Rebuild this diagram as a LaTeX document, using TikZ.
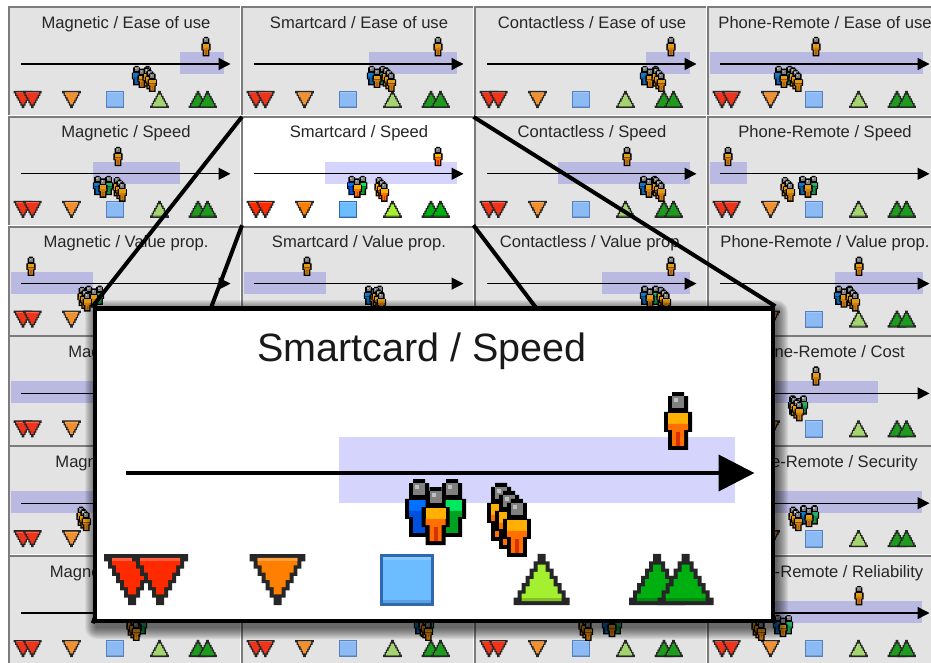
\documentclass[tikz,border=0pt]{standalone}
\usepackage{fontspec}
\setmainfont{Liberation Sans}
\usetikzlibrary{arrows.meta}

% colours of the dimmed cells
\newcommand{\usedim}{%
  \definecolor{cellfill}{HTML}{E3E3E3}\definecolor{bandfill}{HTML}{B9B9E2}%
  \definecolor{redfill}{HTML}{F0341C}\definecolor{orangefill}{HTML}{F09030}%
  \definecolor{squarefill}{HTML}{8CBAF5}\definecolor{squareedge}{HTML}{5580BC}%
  \definecolor{limefill}{HTML}{A4D470}\definecolor{greenfill}{HTML}{1E9A1E}%
  \definecolor{amberhi}{HTML}{E39C12}\definecolor{amberlo}{HTML}{CC7C10}\definecolor{ambercore}{HTML}{A86410}%
  \definecolor{bluehi}{HTML}{1478C8}\definecolor{bluelo}{HTML}{1060A8}%
  \definecolor{mintlhi}{HTML}{28AC6C}\definecolor{mintllo}{HTML}{188C48}}
% colours of the selected cell
\newcommand{\usevivid}{%
  \definecolor{cellfill}{HTML}{FFFFFF}\definecolor{bandfill}{HTML}{D4D4FD}%
  \definecolor{redfill}{HTML}{FF2A00}\definecolor{orangefill}{HTML}{FF8000}%
  \definecolor{squarefill}{HTML}{6BBDFF}\definecolor{squareedge}{HTML}{2F68B0}%
  \definecolor{limefill}{HTML}{A4F030}\definecolor{greenfill}{HTML}{00B010}%
  \definecolor{amberhi}{HTML}{FFB000}\definecolor{amberlo}{HTML}{FF7000}\definecolor{ambercore}{HTML}{D83000}%
  \definecolor{bluehi}{HTML}{0070FF}\definecolor{bluelo}{HTML}{0050E0}%
  \definecolor{mintlhi}{HTML}{00E860}\definecolor{mintllo}{HTML}{00A020}}
\usedim
\definecolor{rimgray}{HTML}{7C7C7C}

\newcommand{\iconw}{1.33pt}

% stepped triangle: colour, steps, top
\newcommand{\zigtri}[3]{
  \fill[#1] (-#2*1.333,#3)
    \foreach \k in {1,...,#2} {-- ({-#2*1.333+1.333*(\k-1)},{#3+2.43*\k}) -- ({-#2*1.333+1.333*\k},{#3+2.43*\k})}
    \foreach \k in {#2,...,1} {-- ({#2*1.333-1.333*\k},{#3+2.43*\k}) -- ({#2*1.333-1.333*(\k-1)},{#3+2.43*\k})}
    -- (#2*1.333,#3) -- cycle;
}

\tikzset{
  cellbox/.style={rectangle,fill=cellfill,minimum width=231pt,minimum height=108pt,inner sep=0pt,anchor=north west},
  celltitle/.style={font=\fontsize{16.6}{18}\selectfont,text=black!85,inner sep=0pt,anchor=base},
  cellrim/.style={rimgray,line width=2pt},
  axisline/.style={line width=\iconw,-{Triangle[length=0pt 9,width=0pt 9]}},
  iconedge/.style={line width=0.75*\iconw,line join=miter},
  zoomline/.style={black,line width=4pt},
  zoombox/.style={rectangle,draw=black,fill=white,line width=4.5pt,minimum width=678pt,minimum height=312.5pt,inner sep=0pt},
  pics/person/.style n args={3}{code={
    \begin{scope}[x=1.333pt,y=-1.333pt]
    \fill[black] (-1.5,0) -- (1.5,0) -- (1.5,1) -- (2.5,1) -- (2.5,5) -- (3.5,5) -- (3.5,10) -- (2.5,10) -- (2.5,14.5)
      -- (-2.5,14.5) -- (-2.5,10) -- (-3.5,10) -- (-3.5,5) -- (-2.5,5) -- (-2.5,1) -- (-1.5,1) -- cycle;
    \fill[black!50] (-1.5,1) rectangle (1.5,4);
    \fill[black!25] (-1,1.5) rectangle (0,2.5);
    \fill[#1] (-2.5,5.2) rectangle (2.5,8);
    \fill[#2] (-2.5,8) -- (2.5,8) -- (2.5,9.5) -- (1.5,9.5) -- (1.5,13.5) -- (-1.5,13.5) -- (-1.5,9.5) -- (-2.5,9.5) -- cycle;
    \fill[#3] (-0.5,10) rectangle (0.5,13.5);
    \end{scope}
  }},
  pics/team/.style={code={
    \pic[transform shape] at (-5.5,0) {person={bluehi}{bluelo}{bluelo}};
    \pic[transform shape] at (5.5,0) {person={mintlhi}{mintllo}{mintllo}};
    \pic[transform shape] at (0,2.67) {person={amberhi}{amberlo}{ambercore}};
  }},
  pics/pile/.style={code={
    \pic[transform shape] at (0,0) {person={amberhi}{amberlo}{ambercore}};
    \pic[transform shape] at (2.67,2.67) {person={amberhi}{amberlo}{ambercore}};
    \pic[transform shape] at (5.33,5.33) {person={amberhi}{amberlo}{ambercore}};
  }},
  pics/downtri/.style={code={
    \zigtri{black!85}{7}{0}
    \zigtri{#1}{5}{1.33}
    \fill[white,opacity=0.25] (-6.67,1.33) rectangle (6.67,2.4);
  }},
  pics/uptri/.style={code={
    \begin{scope}[yscale=-1]
    \zigtri{black!85}{7}{0}
    \zigtri{#1}{5}{1.33}
    \fill[black,opacity=0.2] (-6.67,1.33) rectangle (6.67,2.4);
    \end{scope}
  }},
}

% band start, band end, lone person, team, pile
\newcommand{\cellbody}[5]{
  \fill[bandfill] (#1,45) rectangle (#2,67);
  \coordinate (tail) at (12,57);
  \coordinate (tip) at (221.5,57);
  \draw[axisline] (tail) -- (tip);
  \pic[transform shape] at (14,84) {downtri=redfill};
  \pic[transform shape] at (23.4,84) {downtri=redfill};
  \pic[transform shape] at (62.5,84) {downtri=orangefill};
  \filldraw[iconedge,fill=squarefill,draw=squareedge] (97.2,84.4) rectangle (114,100.8);
  \fill[white,opacity=0.2] (97.7,84.9) rectangle (113.5,86);
  \fill[black,opacity=0.15] (97.7,99.3) rectangle (113.5,100.3);
  \pic[transform shape] at (150.5,101) {uptri=limefill};
  \pic[transform shape] at (189,101) {uptri=greenfill};
  \pic[transform shape] at (198.5,101) {uptri=greenfill};
  \pic[transform shape] at (#3,30) {person={amberhi}{amberlo}{ambercore}};
  \pic[transform shape] at (#4,59) {team};
  \pic[transform shape] at (#5,60.3) {pile};
}

% column, row, title, then the values of \cellbody
\newcommand{\cell}[8]{
  \begin{scope}[shift={(9+233*#1,7+109.8*#2)}]
    \node[cellbox] (p#1#2) at (0,0) {};
    \draw[cellrim] (p#1#2.south west) -- (p#1#2.north west) -- (p#1#2.north east);
    \cellbody{#4}{#5}{#6}{#7}{#8}
    \node[celltitle] (t#1#2) at (117,21.2) {#3};
  \end{scope}
}

\begin{document}
\begin{tikzpicture}[x=1pt,y=-1pt]
\useasboundingbox (0,0) rectangle (931,663);
\fill[white] (0,0) rectangle (931,663);

\cell{0}{0}{Magnetic / Ease of use}{171}{215}{197}{133}{138}
\cell{1}{0}{Smartcard / Ease of use}{127}{215}{196}{135}{144}
\cell{2}{0}{Contactless / Ease of use}{171}{215}{196}{175}{181}
\cell{3}{0}{Phone-Remote / Ease of use}{2}{215}{108}{76}{85}

\cell{0}{1}{Magnetic / Speed}{84}{171}{109}{94}{108}
\begin{scope}
\usevivid
\cell{1}{1}{Smartcard / Speed}{83}{215}{196}{115.2}{137}
\end{scope}
\cell{2}{1}{Contactless / Speed}{83}{215}{152}{174}{181}
\cell{3}{1}{Phone-Remote / Speed}{2}{39}{20}{100}{77}

\cell{0}{2}{Magnetic / Value prop.}{2}{84}{22}{85}{73}
\cell{1}{2}{Smartcard / Value prop.}{2}{84}{65}{132}{134}
\cell{2}{2}{Contactless / Value prop.}{127}{215}{196}{175}{186}
\cell{3}{2}{Phone-Remote / Value prop.}{127}{215}{151}{136}{142}

\cell{0}{3}{Magnetic / Cost}{2}{120}{150}{150}{170}
\cell{3}{3}{Phone-Remote / Cost}{40}{170}{108}{90}{86}

\cell{0}{4}{Magnetic / Security}{2}{120}{150}{150}{72}
\cell{3}{4}{Phone-Remote / Security}{40}{214}{62}{101}{85}

\cell{0}{5}{Magnetic / Reliability}{110}{180}{170}{128}{122}
\cell{1}{5}{}{100}{180}{120}{182}{181}
\cell{2}{5}{}{100}{180}{90}{137}{108}
\cell{3}{5}{Phone-Remote / Reliability}{60}{214}{151}{75}{48}

\node[zoombox,draw=none,fill=none] (zoomed) at (434,464.7) {};
\draw[zoomline] (p11.north west) -- (zoomed.north west);
\draw[zoomline] (p11.north east) -- (zoomed.north east);
\draw[zoomline] (p11.south west) -- (zoomed.south west);
\draw[zoomline] (p11.south east) -- (zoomed.south east);

% soft shadow
\foreach \e in {1,...,12}
  \fill[black,opacity=0.06,rounded corners=\e pt] (97-\e,312-\e) rectangle (776+\e,627+\e);

\node[zoombox] (zoomedface) at (434,464.7) {};
\begin{scope}[shift={(90,302)},scale=3]
\usevivid
\renewcommand{\iconw}{4pt}
\cellbody{83}{215}{196}{115.2}{137}
\end{scope}
\node[font=\fontsize{39.5}{42}\selectfont,text=black!90,inner sep=0pt,anchor=base] (zoomtitle) at (422,361) {Smartcard / Speed};
\end{tikzpicture}
\end{document}
